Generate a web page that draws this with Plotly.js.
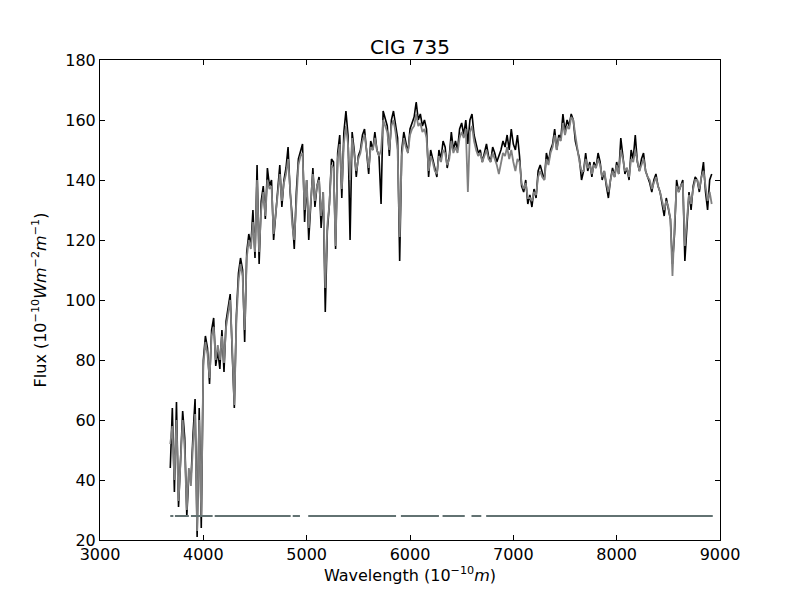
<!DOCTYPE html>
<html>
<head>
<meta charset="utf-8">
<script src="https://cdn.plot.ly/plotly-3.0.1.min.js"></script>
<style>html,body{margin:0;padding:0;background:#fff;}#chart{width:800px;height:600px;}</style>
</head>
<body>
<div id="chart"></div>
<script>
// Wavelength grid (Angstrom)
var wavelength = [
3680,3700,3720,3740,3760,3780,3800,3820,3840,3860,
3880,3900,3920,3940,3960,3980,4000,4020,4040,4060,
4080,4100,4120,4140,4160,4180,4200,4220,4240,4260,
4280,4300,4320,4340,4360,4380,4400,4420,4440,4460,
4480,4500,4520,4540,4560,4580,4600,4620,4640,4660,
4680,4700,4720,4740,4760,4780,4800,4820,4840,4860,
4880,4900,4920,4940,4960,4980,5000,5020,5040,5060,
5080,5100,5120,5140,5160,5180,5200,5220,5240,5260,
5280,5300,5320,5340,5360,5380,5400,5420,5440,5460,
5480,5500,5520,5540,5560,5580,5600,5620,5640,5660,
5680,5700,5720,5740,5760,5780,5800,5820,5840,5860,
5880,5900,5920,5940,5960,5980,6000,6020,6040,6060,
6080,6100,6120,6140,6160,6180,6200,6220,6240,6260,
6280,6300,6320,6340,6360,6380,6400,6420,6440,6460,
6480,6500,6520,6540,6560,6580,6600,6620,6640,6660,
6680,6700,6720,6740,6760,6780,6800,6820,6840,6860,
6880,6900,6920,6940,6960,6980,7000,7020,7040,7060,
7080,7100,7120,7140,7160,7180,7200,7220,7240,7260,
7280,7300,7320,7340,7360,7380,7400,7420,7440,7460,
7480,7500,7520,7540,7560,7580,7600,7620,7640,7660,
7680,7700,7720,7740,7760,7780,7800,7820,7840,7860,
7880,7900,7920,7940,7960,7980,8000,8020,8040,8060,
8080,8100,8120,8140,8160,8180,8200,8220,8240,8260,
8280,8300,8320,8340,8360,8380,8400,8420,8440,8460,
8480,8500,8520,8540,8560,8580,8600,8620,8640,8660,
8680,8700,8720,8740,8760,8780,8800,8820,8840,8860,
8880,8900,8920
];

// Observed flux (black)
var fluxObserved = [
44,64,36,66,31,48,63,54,28,42,
40,55,67,21,64,24,80,88,84,72,
90,94,78,83,77,90,76,93,98,102,
82,64,95,109,114,110,86,116,122,118,
130,114,145,112,133,138,127,144,138,140,
120,128,138,145,131,140,144,151,136,128,
117,136,147,150,152,126,140,120,133,144,
131,138,141,124,136,96,123,132,147,146,
117,149,155,134,156,163,155,120,156,150,
141,148,150,155,157,150,142,153,150,156,
150,148,132,163,160,158,148,160,163,158,
154,113,150,156,152,149,157,159,161,166,
160,162,158,160,157,141,150,147,144,141,
150,147,153,151,144,148,156,150,153,150,
157,159,155,160,152,160,162,155,152,149,
150,146,149,152,148,146,151,149,146,148,
150,153,151,155,150,157,152,150,155,148,
138,136,140,132,135,131,137,134,143,145,
142,140,149,146,150,152,157,150,155,154,
162,156,160,158,162,160,153,150,147,140,
143,149,143,146,141,146,144,149,146,140,
143,138,134,140,144,141,146,142,154,148,
142,144,140,150,147,155,146,143,147,149,
143,141,139,136,140,142,138,136,132,128,
134,131,127,112,122,140,136,138,140,113,
125,136,130,138,141,140,136,142,146,136,
130,140,142
];

// Model flux (grey)
var fluxModel = [
52,58,40,60,33,45,60,50,30,44,
38,52,62,23,60,28,78,86,82,74,
88,91,80,85,80,88,79,91,96,100,
84,65,93,106,112,108,90,114,120,117,
126,116,140,116,130,136,128,140,137,138,
122,128,136,142,133,139,142,147,137,125,
120,135,145,148,149,130,140,124,134,142,
133,138,140,128,136,104,125,132,145,144,
118,147,152,137,152,158,152,140,154,149,
143,147,149,153,155,150,144,151,150,154,
150,148,150,160,158,156,150,158,160,156,
150,121,148,154,151,149,155,157,158,162,
158,159,156,157,154,143,148,146,143,142,
148,146,150,149,145,147,153,149,151,149,
154,156,154,157,136,156,158,153,150,148,
149,146,148,150,147,146,149,147,145,142,
146,149,148,151,147,150,146,143,147,146,
139,137,139,134,134,133,136,135,141,143,
141,140,147,145,149,151,155,150,154,153,
159,155,158,157,161,160,155,150,146,143,
143,147,144,145,142,145,144,147,145,141,
143,139,136,140,143,141,145,142,150,147,
143,144,141,147,146,150,146,143,145,147,
143,141,140,137,139,141,138,136,133,130,
133,131,127,108,125,138,136,138,139,118,
127,135,132,137,140,140,137,141,143,138,
133,136,132
];

// Mask (fitted regions) at constant level, null = masked gap
var maskWavelength = [3680,3710,null,3725,3860,null,3880,4090,null,4110,4845,null,4865,4935,null,5015,5865,null,5912,6280,null,6315,6530,null,6595,6690,null,6737,8930];
var maskLevel      = [28,28,null,28,28,null,28,28,null,28,28,null,28,28,null,28,28,null,28,28,null,28,28,null,28,28,null,28,28];

var xTicks = [3000,4000,5000,6000,7000,8000,9000];
var yTicks = [20,40,60,80,100,120,140,160,180];

var traces = [
  {x: wavelength, y: fluxObserved, type: 'scatter', mode: 'lines',
   line: {color: '#000000', width: 1.6}, hoverinfo: 'skip'},
  {x: wavelength, y: fluxModel, type: 'scatter', mode: 'lines',
   line: {color: '#808080', width: 1.8}, hoverinfo: 'skip'},
  {x: maskWavelength, y: maskLevel, type: 'scatter', mode: 'lines',
   line: {color: '#627272', width: 2}, connectgaps: false, hoverinfo: 'skip'}
];

var fontFam = 'DejaVu Sans, sans-serif';
var layout = {
  width: 800, height: 600,
  paper_bgcolor: '#ffffff', plot_bgcolor: '#ffffff',
  showlegend: false,
  margin: {l: 100, r: 80, t: 60, b: 60},
  font: {family: fontFam, size: 16, color: '#000000'},
  title: {text: 'CIG 735', font: {family: fontFam, size: 20, color: '#000'},
          x: 0.5125, xanchor: 'center', y: 0.922, yanchor: 'middle'},
  xaxis: {
    range: [3000, 9000], tickvals: xTicks, ticktext: xTicks.map(String),
    ticks: 'inside', ticklen: 5, tickwidth: 1, tickcolor: '#000',
    showline: true, linecolor: '#000', linewidth: 1, mirror: 'ticks',
    showgrid: false, zeroline: false,
    tickfont: {family: fontFam, size: 16},
    title: {text: 'Wavelength (10<sup>−10</sup><i>m</i>)', font: {family: fontFam, size: 16}, standoff: 6}
  },
  yaxis: {
    range: [20, 180], tickvals: yTicks, ticktext: yTicks.map(String),
    ticks: 'inside', ticklen: 5, tickwidth: 1, tickcolor: '#000',
    showline: true, linecolor: '#000', linewidth: 1, mirror: 'ticks',
    showgrid: false, zeroline: false,
    tickfont: {family: fontFam, size: 16},
    title: {text: 'Flux (10<sup>−10</sup><i>Wm</i><sup>−2</sup><i>m</i><sup>−1</sup>)', font: {family: fontFam, size: 16}, standoff: 14}
  }
};

Plotly.newPlot('chart', traces, layout, {staticPlot: true, displayModeBar: false});
</script>
</body>
</html>
